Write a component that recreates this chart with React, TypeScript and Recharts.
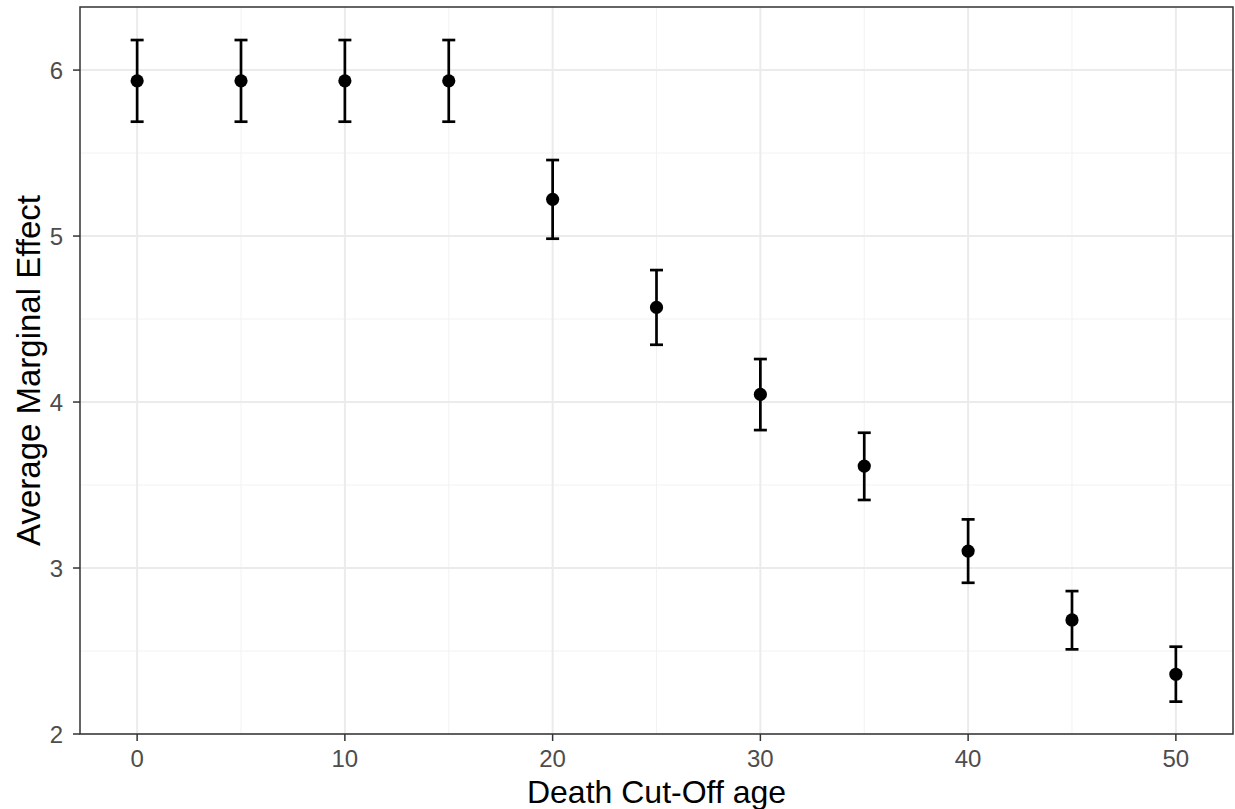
import {
	CartesianGrid,
	ComposedChart,
	ErrorBar,
	ReferenceArea,
	Scatter,
	XAxis,
	YAxis,
} from "recharts";

const cutoffAge = [0, 5, 10, 15, 20, 25, 30, 35, 40, 45, 50];
const effect = [5.935, 5.935, 5.935, 5.935, 5.221, 4.57, 4.046, 3.614, 3.102, 2.687, 2.36];
const lower = [5.689, 5.689, 5.689, 5.689, 4.984, 4.345, 3.831, 3.41, 2.911, 2.51, 2.195];
const upper = [6.181, 6.181, 6.181, 6.181, 5.458, 4.795, 4.259, 3.815, 3.293, 2.861, 2.526];

const xTicks = [0, 10, 20, 30, 40, 50];
const xMinor = [5, 15, 25, 35, 45];
const yTicks = [2, 3, 4, 5, 6];
const yMinor = [2.5, 3.5, 4.5, 5.5];

const X_DOMAIN: [number, number] = [-2.75, 52.75];
const Y_DOMAIN: [number, number] = [2, 6.38];

const FONT = '"Liberation Sans", Arial, sans-serif';

const data = cutoffAge.map((age, i) => ({
	age,
	ame: effect[i],
	err: [effect[i] - lower[i], upper[i] - effect[i]],
}));

const Dot = (props: any) => (
	<circle cx={props.cx} cy={props.cy} r={6.6} fill="#000" />
);

export default function App() {
	return (
		<div style={{ position: "absolute", left: 0, top: 0, fontFamily: FONT }}>
			<ComposedChart
				width={1235}
				height={809}
				data={data}
				margin={{ top: 7, right: 2, bottom: 0, left: 0 }}
			>
				<CartesianGrid
					horizontalValues={yMinor}
					verticalValues={xMinor}
					stroke="#f2f2f2"
					strokeWidth={1}
				/>
				<CartesianGrid
					horizontalValues={yTicks}
					verticalValues={xTicks}
					stroke="#ebebeb"
					strokeWidth={2}
				/>
				<XAxis
					dataKey="age"
					type="number"
					domain={X_DOMAIN}
					ticks={xTicks}
					allowDataOverflow
					height={75}
					axisLine={false}
					tickSize={7}
					tickMargin={9}
					tickLine={{ stroke: "#333", strokeWidth: 1.5 }}
					tick={{ fill: "#4d4d4d", fontSize: 24, fontFamily: FONT }}
					label={{
						value: "Death Cut-Off age",
						position: "insideBottom",
						offset: 6,
						fill: "#000",
						fontSize: 32,
						fontFamily: FONT,
					}}
				/>
				<YAxis
					type="number"
					domain={Y_DOMAIN}
					ticks={yTicks}
					allowDataOverflow
					width={80}
					axisLine={false}
					tickSize={7}
					tickMargin={10}
					tickLine={{ stroke: "#333", strokeWidth: 1.5 }}
					tick={{ fill: "#4d4d4d", fontSize: 24, fontFamily: FONT }}
					label={{
						value: "Average Marginal Effect",
						angle: -90,
						position: "insideLeft",
						offset: 28,
						fill: "#000",
						fontSize: 33,
						fontFamily: FONT,
						style: { textAnchor: "middle" },
					}}
				/>
				<ReferenceArea
					x1={X_DOMAIN[0]}
					x2={X_DOMAIN[1]}
					y1={Y_DOMAIN[0]}
					y2={Y_DOMAIN[1]}
					fill="none"
					stroke="#333"
					strokeWidth={1.5}
					ifOverflow="visible"
				/>
				<Scatter dataKey="ame" shape={Dot} isAnimationActive={false}>
					<ErrorBar
						dataKey="err"
						direction="y"
						width={6.5}
						stroke="#000"
						strokeWidth={2.7}
						isAnimationActive={false}
					/>
				</Scatter>
			</ComposedChart>
		</div>
	);
}
